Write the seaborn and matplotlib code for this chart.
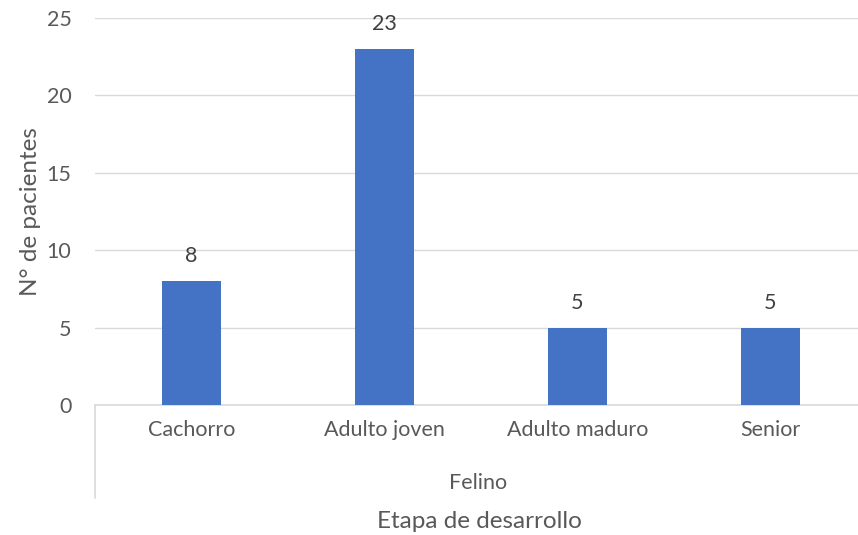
import seaborn as sns
import pandas as pd
from matplotlib import pyplot as plt

etapas = ['Cachorro', 'Adulto joven', 'Adulto maduro', 'Senior']
pacientes = [8, 23, 5, 5]
grupo = 'Felino'

df = pd.DataFrame({'etapa': etapas, 'n': pacientes})

sns.set_theme(style='white')
plt.rcParams['font.family'] = ['Lato', 'DejaVu Sans']
gris = '#595959'

fig = plt.figure(figsize=(8.58, 5.35), dpi=100)
ax = fig.add_axes([95 / 858, 130 / 535, 763 / 858, 387 / 535])

sns.barplot(data=df, x='etapa', y='n', color='#4472C4', saturation=1,
            width=0.31, linewidth=0, ax=ax, zorder=3)

ax.set_ylim(0, 25)
ax.set_yticks(range(0, 26, 5))
ax.set_xlim(-0.5, 3.5 - 9 / 193)
ax.yaxis.grid(True, color='#D9D9D9', linewidth=1, zorder=0)
for s in ['top', 'right', 'left']:
    ax.spines[s].set_visible(False)
ax.spines['bottom'].set_color('#D9D9D9')
ax.spines['bottom'].set_linewidth(1.2)
ax.tick_params(axis='x', length=0, labelsize=15.5, colors=gris, pad=11)
ax.tick_params(axis='y', length=0, labelsize=15.5, colors=gris, pad=17)

for i, v in enumerate(pacientes):
    ax.annotate(str(v), (i, v), xytext=(0, 18), textcoords='offset points',
                ha='center', va='center', fontsize=15.5, color='#404040')

ax.set_xlabel('')
ax.set_ylabel('N° de pacientes', fontsize=17.5, color=gris, labelpad=4)

# segundo nivel del eje de categorías
fig.add_artist(plt.Line2D([95 / 858, 95 / 858], [130 / 535, 37 / 535],
                          color='#D9D9D9', linewidth=1.2))
fig.text(478 / 858, 1 - 483 / 535, grupo, ha='center', va='center',
         fontsize=15.5, color=gris)
fig.text(479 / 858, 1 - 521 / 535, 'Etapa de desarrollo', ha='center',
         va='center', fontsize=17.5, color=gris)

fig.savefig('out.png', dpi=100)
